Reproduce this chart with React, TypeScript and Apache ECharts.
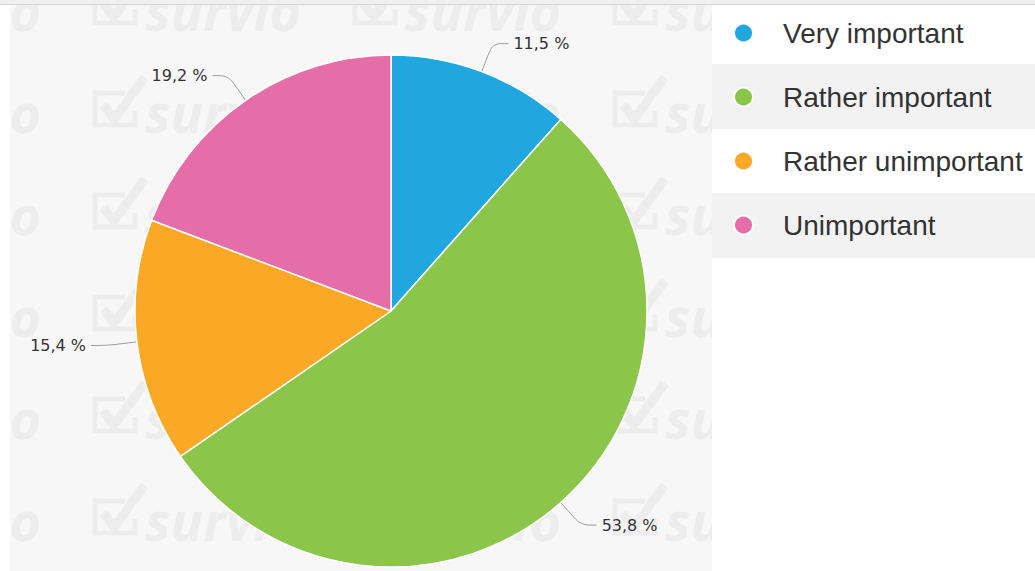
import React, { useEffect, useRef } from "react";
import * as echarts from "echarts";

const categories = ["Very important", "Rather important", "Rather unimportant", "Unimportant"];
const counts = [3, 14, 4, 5];
const colors = ["#21a7e0", "#8bc549", "#fba826", "#e56ea9"];

const WM_ROWS = [25, 127, 229, 331, 433, 535];
const WM_COLS = [-165, 95, 355, 615];

function buildWatermark(): any[] {
  const els: any[] = [];
  const c = "#ededed";
  for (const by of WM_ROWS) {
    for (const x of WM_COLS) {
      els.push({
        type: "polyline",
        z: 0,
        silent: true,
        shape: { points: [[x + 30, by - 34], [x, by - 34], [x, by - 2], [x + 40, by - 2], [x + 40, by - 16]] },
        style: { stroke: c, lineWidth: 5, fill: null },
      });
      els.push({
        type: "polyline",
        z: 0,
        silent: true,
        shape: { points: [[x + 8, by - 22], [x + 19, by - 8], [x + 50, by - 50]] },
        style: { stroke: c, lineWidth: 9, fill: null },
      });
      els.push({
        type: "text",
        z: 0,
        silent: true,
        x: x + 50,
        y: by + 12,
        style: {
          text: "survio",
          fill: c,
          fontSize: 54,
          fontWeight: "bold",
          fontStyle: "italic",
          fontFamily: "Open Sans",
          verticalAlign: "bottom",
        },
      });
    }
  }
  return els;
}

export default function App() {
  const ref = useRef<HTMLDivElement>(null);
  useEffect(() => {
    if (!ref.current) return;
    const chart = echarts.init(ref.current, undefined, { renderer: "svg" });
    const total = counts.reduce((a, b) => a + b, 0);
    const legendRows = [
      [5, 64, "#ffffff"],
      [64, 129, "#f2f2f2"],
      [129, 193, "#ffffff"],
      [193, 258, "#f2f2f2"],
    ];
    chart.setOption({
      animation: false,
      graphic: [
        { type: "rect", z: -1, silent: true, shape: { x: 10, y: 5, width: 702, height: 566 }, style: { fill: "#f7f7f7" } },
        ...buildWatermark(),
        { type: "rect", z: 10, silent: true, shape: { x: 0, y: 5, width: 10, height: 566 }, style: { fill: "#ffffff" } },
        { type: "rect", z: 10, silent: true, shape: { x: 712, y: 5, width: 323, height: 566 }, style: { fill: "#ffffff" } },
        ...legendRows.map((r) => ({
          type: "rect",
          z: 11,
          silent: true,
          shape: { x: 712, y: r[0], width: 323, height: (r[1] as number) - (r[0] as number) },
          style: { fill: r[2] },
        })),
        { type: "rect", z: 12, silent: true, shape: { x: 0, y: 0, width: 1035, height: 4 }, style: { fill: "#f0f0f0" } },
        { type: "line", z: 12, silent: true, shape: { x1: 0, y1: 4.5, x2: 1035, y2: 4.5 }, style: { stroke: "#d4d4d4", lineWidth: 1 } },
      ],
      legend: {
        orient: "vertical",
        left: 728,
        top: 13,
        z: 20,
        icon: "circle",
        itemWidth: 19,
        itemHeight: 19,
        itemGap: 34,
        selectedMode: false,
        data: categories,
        textStyle: {
          fontSize: 28,
          lineHeight: 30,
          fontFamily: "Liberation Sans, Arial, sans-serif",
          color: "#333333",
          padding: [0, 0, 0, 25],
        },
      },
      series: [
        {
          type: "pie",
          z: 2,
          center: [391, 311],
          radius: 256,
          startAngle: 90,
          clockwise: true,
          silent: true,
          itemStyle: { borderColor: "#ffffff", borderWidth: 1.5 },
          label: {
            show: true,
            position: "outside",
            color: "#333333",
            fontSize: 16,
            fontFamily: "DejaVu Sans",
            formatter: (p: any) => ((p.value / total) * 100).toFixed(1).replace(".", ",") + " %",
          },
          labelLine: {
            show: true,
            length: 30,
            length2: 16,
            smooth: true,
            lineStyle: { color: "#999999", width: 1 },
          },
          emphasis: { disabled: true },
          data: categories.map((name, i) => ({
            name,
            value: counts[i],
            itemStyle: { color: colors[i] },
          })),
        },
      ],
    });
    return () => chart.dispose();
  }, []);
  return (
    <div
      ref={ref}
      style={{ position: "fixed", left: 0, top: 0, width: 1035, height: 571, background: "#ffffff" }}
    />
  );
}
